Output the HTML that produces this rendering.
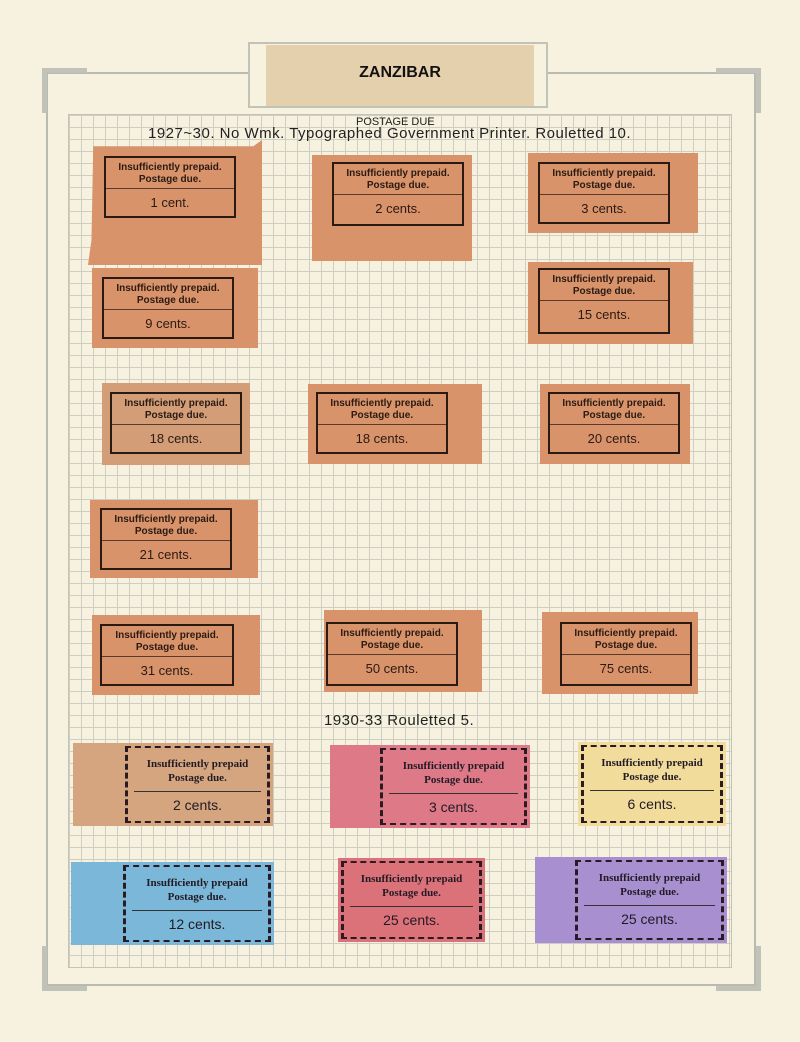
<!DOCTYPE html>
<html><head><meta charset="utf-8"><style>
body{margin:0;width:800px;height:1042px;background:#f6f2df;position:relative;overflow:hidden;font-family:"Liberation Sans",sans-serif}
.a{position:absolute}
.grid{left:68px;top:114px;width:664px;height:854px;border:1px solid #c4c3b8;
background-image:linear-gradient(#cfcec3 1px,transparent 1px),linear-gradient(90deg,#cfcec3 1px,transparent 1px);background-size:12px 12px;box-sizing:border-box}
.fr{border:2px solid #b9bab0}
.p{position:absolute;background:#d9936a}
.b{position:absolute;border:2px solid #2a1a12;box-sizing:border-box;text-align:center;color:#2a1a12}
.b .t{font-size:10px;font-weight:bold;line-height:12px;padding-top:4px;height:31px;border-bottom:1px solid #5a3a2a;box-sizing:border-box}
.b .v{font-size:13px;line-height:27px}
.q{position:absolute}
.q .s{position:absolute;top:3px;bottom:3px;right:3px;border:2px dashed #2a1a24;border-width:2px 3px;box-sizing:border-box;text-align:center;color:#221a24}
.q .t{font-family:"Liberation Serif",serif;font-weight:bold;font-size:11px;line-height:14px;padding-top:9px;height:44px;box-sizing:border-box;border-bottom:1px solid #333;margin:0 6px}
.q .v{font-size:14px;line-height:26px}
.h{font-family:"Liberation Sans",sans-serif;color:#222;font-size:15px;letter-spacing:0.5px}
</style></head><body>
<div class="a fr" style="left:46px;top:72px;width:706px;height:910px;border-width:2px"></div>
<div class="a" style="left:42px;top:68px;width:40px;height:40px;border-left:5px solid #c1c2b8;border-top:5px solid #c1c2b8"></div>
<div class="a" style="left:716px;top:68px;width:40px;height:40px;border-right:5px solid #c1c2b8;border-top:5px solid #c1c2b8"></div>
<div class="a" style="left:42px;top:946px;width:40px;height:40px;border-left:5px solid #c1c2b8;border-bottom:5px solid #c1c2b8"></div>
<div class="a" style="left:716px;top:946px;width:40px;height:40px;border-right:5px solid #c1c2b8;border-bottom:5px solid #c1c2b8"></div>
<div class="a grid"></div>
<div class="a" style="left:248px;top:42px;width:300px;height:66px;border:2px solid #c1c2b8;box-sizing:border-box;background:#f6f2df"></div>
<div class="a" style="left:266px;top:45px;width:268px;height:61px;background:#e5d0ad"></div>
<div class="a" style="left:266px;top:64px;width:268px;text-align:center;font-weight:bold;font-size:16px;color:#111">ZANZIBAR</div>
<div class="a" style="left:356px;top:116px;font-size:11px;color:#222">POSTAGE DUE</div>
<div class="a h" style="left:148px;top:125px">1927~30. No Wmk. Typographed Government Printer. Rouletted 10.</div>
<div class="a h" style="left:324px;top:712px">1930-33 Rouletted 5.</div>

<div class="p" style="left:88px;top:140px;width:174px;height:125px;clip-path:polygon(3% 5%,95% 5%,100% 0,100% 100%,0 100%,2% 80%)"><div class="b" style="left:16px;top:16px;width:132px;height:62px"><div class="t">Insufficiently prepaid.<br>Postage due.</div><div class="v">1 cent.</div></div></div>
<div class="p" style="left:312px;top:155px;width:160px;height:106px"><div class="b" style="left:20px;top:7px;width:132px;height:64px"><div class="t">Insufficiently prepaid.<br>Postage due.</div><div class="v">2 cents.</div></div></div>
<div class="p" style="left:528px;top:153px;width:170px;height:80px"><div class="b" style="left:10px;top:9px;width:132px;height:62px"><div class="t">Insufficiently prepaid.<br>Postage due.</div><div class="v">3 cents.</div></div></div>
<div class="p" style="left:92px;top:268px;width:166px;height:80px"><div class="b" style="left:10px;top:9px;width:132px;height:62px"><div class="t">Insufficiently prepaid.<br>Postage due.</div><div class="v">9 cents.</div></div></div>
<div class="p" style="left:528px;top:262px;width:165px;height:82px"><div class="b" style="left:10px;top:6px;width:132px;height:66px"><div class="t">Insufficiently prepaid.<br>Postage due.</div><div class="v">15 cents.</div></div></div>
<div class="p" style="left:102px;top:383px;width:148px;height:82px;background:#d39d78"><div class="b" style="left:8px;top:9px;width:132px;height:62px"><div class="t">Insufficiently prepaid.<br>Postage due.</div><div class="v">18 cents.</div></div></div>
<div class="p" style="left:308px;top:384px;width:174px;height:80px"><div class="b" style="left:8px;top:8px;width:132px;height:62px"><div class="t">Insufficiently prepaid.<br>Postage due.</div><div class="v">18 cents.</div></div></div>
<div class="p" style="left:540px;top:384px;width:150px;height:80px"><div class="b" style="left:8px;top:8px;width:132px;height:62px"><div class="t">Insufficiently prepaid.<br>Postage due.</div><div class="v">20 cents.</div></div></div>
<div class="p" style="left:90px;top:500px;width:168px;height:78px"><div class="b" style="left:10px;top:8px;width:132px;height:62px"><div class="t">Insufficiently prepaid.<br>Postage due.</div><div class="v">21 cents.</div></div></div>
<div class="p" style="left:92px;top:615px;width:168px;height:80px"><div class="b" style="left:8px;top:9px;width:134px;height:62px"><div class="t">Insufficiently prepaid.<br>Postage due.</div><div class="v">31 cents.</div></div></div>
<div class="p" style="left:324px;top:610px;width:158px;height:82px"><div class="b" style="left:2px;top:12px;width:132px;height:64px"><div class="t">Insufficiently prepaid.<br>Postage due.</div><div class="v">50 cents.</div></div></div>
<div class="p" style="left:542px;top:612px;width:156px;height:82px"><div class="b" style="left:18px;top:10px;width:132px;height:64px"><div class="t">Insufficiently prepaid.<br>Postage due.</div><div class="v">75 cents.</div></div></div>

<div class="q" style="left:73px;top:743px;width:200px;height:83px;background:#d4a57e"><div class="s" style="left:52px"><div class="t">Insufficiently prepaid<br>Postage due.</div><div class="v">2 cents.</div></div></div>
<div class="q" style="left:330px;top:745px;width:200px;height:83px;background:#de7a88"><div class="s" style="left:50px"><div class="t">Insufficiently prepaid<br>Postage due.</div><div class="v">3 cents.</div></div></div>
<div class="q" style="left:578px;top:742px;width:148px;height:84px;background:#f1dc9c"><div class="s" style="left:3px"><div class="t">Insufficiently prepaid<br>Postage due.</div><div class="v">6 cents.</div></div></div>
<div class="q" style="left:71px;top:862px;width:203px;height:83px;background:#7bb7d8"><div class="s" style="left:52px"><div class="t">Insufficiently prepaid<br>Postage due.</div><div class="v">12 cents.</div></div></div>
<div class="q" style="left:338px;top:858px;width:147px;height:84px;background:#dc7279"><div class="s" style="left:3px"><div class="t">Insufficiently prepaid<br>Postage due.</div><div class="v">25 cents.</div></div></div>
<div class="q" style="left:535px;top:857px;width:192px;height:86px;background:#a890d0"><div class="s" style="left:40px"><div class="t">Insufficiently prepaid<br>Postage due.</div><div class="v">25 cents.</div></div></div>
</body></html>
